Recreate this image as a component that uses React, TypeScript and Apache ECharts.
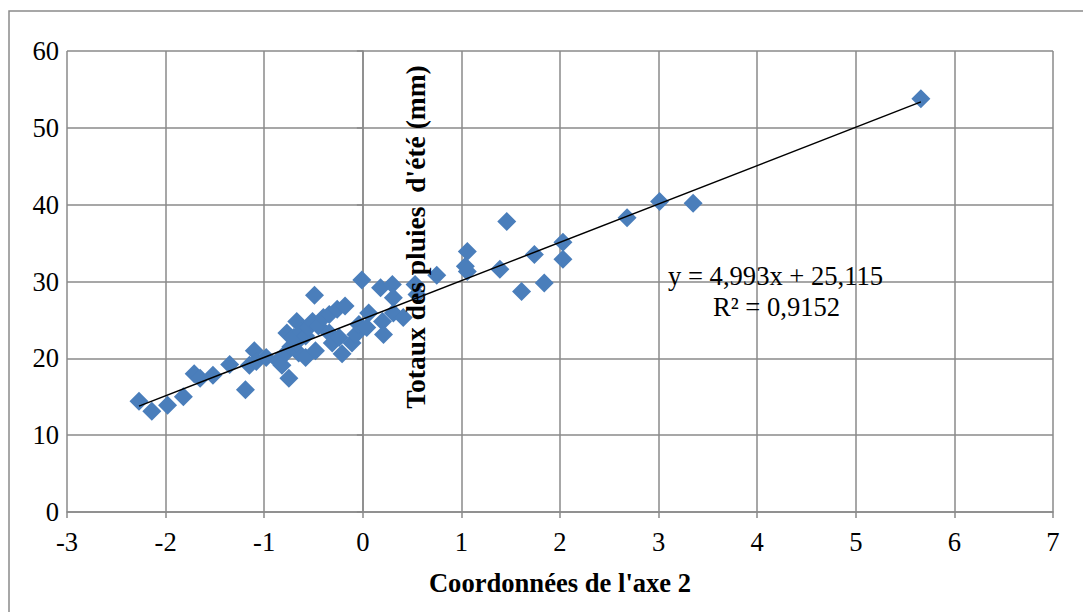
import React, { useEffect, useRef } from "react";
import * as echarts from "echarts";

const xValues: number[] = [
  -2.27, -2.14, -1.98, -1.82, -1.71, -1.65, -1.52, -1.35, -1.19, -1.15, -1.1, -1.08, -0.98, -0.86, -0.82,
  -0.75, -0.78, -0.73, -0.65, -0.68, -0.58, -0.48, -0.21,
  -0.77, -0.7, -0.67, -0.62, -0.58, -0.55, -0.51, -0.45, -0.49, -0.4, -0.34, -0.34, -0.31, -0.26, -0.24,
  -0.18, -0.11, -0.07, -0.04, -0.01, 0.04, 0.06, 0.18, 0.2, 0.21, 0.3, 0.31, 0.31, 0.41, 0.53, 0.55, 0.75,
  1.04, 1.06, 1.06, 1.39, 1.46, 1.61, 1.74, 1.84, 2.03, 2.03, 2.68, 3.01, 3.35, 5.66,
];
const yValues: number[] = [
  14.4, 13.1, 13.9, 15.0, 18.0, 17.4, 17.8, 19.2, 15.9, 19.1, 21.0, 19.6, 20.1, 19.7, 19.1,
  17.4, 20.7, 21.5, 20.7, 22.0, 20.1, 21.0, 20.6,
  23.3, 22.7, 24.8, 23.5, 22.9, 24.0, 24.8, 24.2, 28.2, 25.3, 25.7, 23.3, 22.0, 26.4, 22.7,
  26.8, 22.0, 23.1, 24.4, 30.2, 24.0, 25.9, 29.2, 24.8, 23.1, 29.6, 27.9, 25.9, 25.3, 29.6, 28.3, 30.8,
  32.0, 33.9, 31.3, 31.6, 37.8, 28.7, 33.5, 29.8, 35.1, 32.9, 38.3, 40.4, 40.2, 53.8,
];
const slope = 4.993;
const intercept = 25.115;
const equationLabel = "y = 4,993x + 25,115";
const r2Label = "R² = 0,9152";
const xAxisTitle = "Coordonnées de l'axe 2";
const yAxisTitle = "Totaux des pluies  d'été (mm)";

const FONT = "Liberation Serif";
const FS = 26.6;
const GRID = "#8a8a8a";

const tickLabel = {
  color: "#000",
  fontFamily: FONT,
  fontSize: FS,
  formatter: (v: number) => "{s|" + String(v) + "}",
  rich: { s: { fontFamily: FONT, fontSize: FS, color: "#000" } },
};

export default function App() {
  const ref = useRef<HTMLDivElement>(null);
  useEffect(() => {
    if (!ref.current) return;
    const chart = echarts.init(ref.current, undefined, { renderer: "svg" });
    const points = xValues.map((x, i) => [x, yValues[i]]);
    const xMin = Math.min(...xValues);
    const xMax = Math.max(...xValues);
    const trend = [
      [xMin, slope * xMin + intercept],
      [xMax, slope * xMax + intercept],
    ];
    chart.setOption({
      animation: false,
      backgroundColor: "#ffffff",
      textStyle: { fontFamily: FONT },
      grid: { left: 67, top: 51, right: 30, bottom: 100, containLabel: false },
      xAxis: {
        type: "value",
        min: -3,
        max: 7,
        interval: 1,
        axisLine: { onZero: true, lineStyle: { color: GRID, width: 1.5 } },
        axisTick: { show: true, length: 6, lineStyle: { color: GRID, width: 1.5 } },
        splitLine: { show: true, lineStyle: { color: GRID, width: 1.5 } },
        axisLabel: { ...tickLabel, margin: 16 },
        name: xAxisTitle,
        nameLocation: "middle",
        nameGap: 57,
        nameTextStyle: { color: "#000", fontFamily: FONT, fontSize: FS, fontWeight: "bold" },
      },
      yAxis: {
        type: "value",
        min: 0,
        max: 60,
        interval: 10,
        axisLine: { show: true, onZero: true, lineStyle: { color: GRID, width: 1.5 } },
        axisTick: { show: true, length: 6, lineStyle: { color: GRID, width: 1.5 } },
        splitLine: { show: true, lineStyle: { color: GRID, width: 1.5 } },
        axisLabel: { ...tickLabel, margin: 8 },
      },
      graphic: [
        {
          type: "rect",
          silent: true,
          z: -10,
          shape: { x: 9, y: 11, width: 1300, height: 900 },
          style: { fill: "none", stroke: GRID, lineWidth: 1.5 },
        },
        {
          type: "text",
          x: 415,
          y: 237,
          rotation: Math.PI / 2,
          z: 10,
          style: {
            text: yAxisTitle,
            fontFamily: FONT,
            fontSize: 27.5,
            fontWeight: "bold",
            fill: "#000",
            align: "center",
            verticalAlign: "middle",
          },
        },
        {
          type: "text",
          x: 668,
          y: 276,
          z: 10,
          style: {
            text: equationLabel,
            fontFamily: FONT,
            fontSize: FS,
            fill: "#000",
            align: "left",
            verticalAlign: "middle",
          },
        },
        {
          type: "text",
          x: 713,
          y: 307,
          z: 10,
          style: {
            text: r2Label,
            fontFamily: FONT,
            fontSize: FS,
            fill: "#000",
            align: "left",
            verticalAlign: "middle",
          },
        },
      ],
      series: [
        {
          type: "scatter",
          data: points,
          symbol: "diamond",
          symbolSize: 19,
          itemStyle: { color: "#4A7EBB", opacity: 1 },
          z: 2,
        },
        {
          type: "line",
          data: trend,
          symbol: "none",
          lineStyle: { color: "#000", width: 1.5 },
          z: 3,
        },
      ],
    });
    return () => chart.dispose();
  }, []);
  return (
    <div
      ref={ref}
      style={{ position: "absolute", left: 0, top: 0, width: 1083, height: 612 }}
    />
  );
}
